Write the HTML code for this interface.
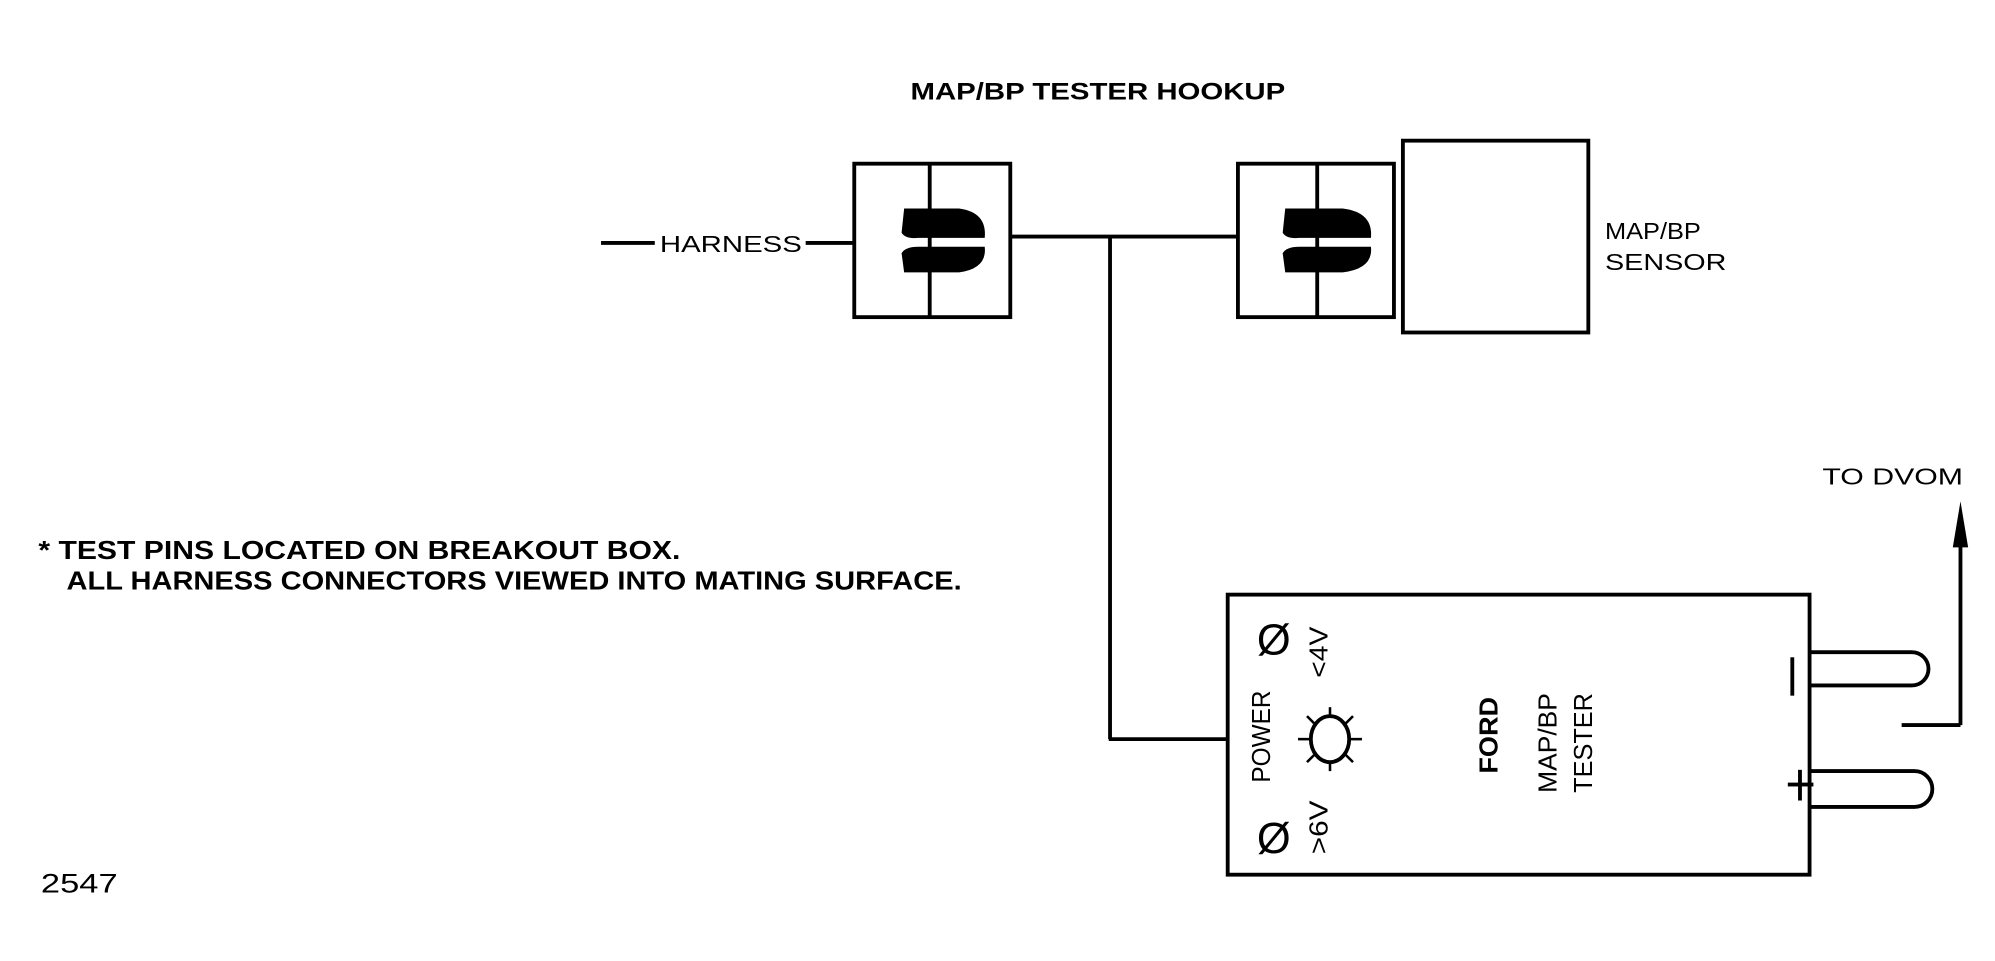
<!DOCTYPE html>
<html><head><meta charset="utf-8"><style>
html,body{margin:0;padding:0;background:#fff;}
svg{display:block;}
text{font-family:"Liberation Sans",sans-serif;fill:#000;}
</style></head><body>
<svg width="1995" height="961" viewBox="0 0 1560 751.5" preserveAspectRatio="none" xmlns="http://www.w3.org/2000/svg">
<g stroke="#000" stroke-width="3" fill="none">
<text x="712" y="78" font-size="19" font-weight="bold" stroke="none" textLength="293" lengthAdjust="spacingAndGlyphs">MAP/BP TESTER HOOKUP</text>
<line x1="470" y1="190" x2="512" y2="190"/>
<line x1="630" y1="190" x2="668" y2="190"/>
<rect x="668" y="128" width="122" height="120"/>
<line x1="727" y1="128" x2="727" y2="248"/>
<rect x="968" y="128" width="122" height="120"/>
<line x1="1030" y1="128" x2="1030" y2="248"/>
<rect x="1097" y="110" width="145" height="150"/>
<line x1="790" y1="185" x2="968" y2="185"/>
<line x1="868" y1="185" x2="868" y2="578"/>
<line x1="867" y1="578" x2="960" y2="578"/>
<rect x="960" y="465" width="455" height="219"/>
<path d="M1415 510 H1495 A13 13 0 0 1 1495 536 H1415"/>
<path d="M1415 603 H1497 A14 14 0 0 1 1497 631 H1415"/>
<line x1="1487" y1="567" x2="1533" y2="567"/>
<line x1="1533" y1="567" x2="1533" y2="415"/>
<ellipse cx="1040" cy="578" rx="15" ry="18"/>
<g stroke-width="2">
<line x1="1040" y1="553" x2="1040" y2="560"/><line x1="1040" y1="596" x2="1040" y2="603"/>
<line x1="1015" y1="578" x2="1025" y2="578"/><line x1="1055" y1="578" x2="1065" y2="578"/>
<line x1="1022" y1="560" x2="1028" y2="566"/><line x1="1052" y1="590" x2="1058" y2="596"/>
<line x1="1058" y1="560" x2="1052" y2="566"/><line x1="1022" y1="596" x2="1028" y2="590"/>
</g>
</g>
<g fill="#000">
<path d="M707 163 H750 Q772 166 770 186 H718 Q708 187 705 182 Z"/>
<path d="M707 213 H750 Q772 210 770 193 H718 Q708 193 705 198 Z"/>
<path d="M1005 163 H1050 Q1074 166 1072 186 H1016 Q1006 187 1003 182 Z"/>
<path d="M1005 213 H1050 Q1074 210 1072 193 H1016 Q1006 193 1003 198 Z"/>
<path d="M1527 428 L1533 392 L1539 428 Z"/>
</g>
<text x="516" y="197" font-size="18" textLength="111" lengthAdjust="spacingAndGlyphs">HARNESS</text>
<text x="1255" y="187" font-size="18" textLength="75" lengthAdjust="spacingAndGlyphs">MAP/BP</text>
<text x="1255" y="211" font-size="18" textLength="95" lengthAdjust="spacingAndGlyphs">SENSOR</text>
<text x="1425" y="379" font-size="18" textLength="110" lengthAdjust="spacingAndGlyphs">TO DVOM</text>
<text x="30" y="437" font-size="20" font-weight="bold" textLength="502" lengthAdjust="spacingAndGlyphs">* TEST PINS LOCATED ON BREAKOUT BOX.</text>
<text x="52" y="461" font-size="20" font-weight="bold" textLength="700" lengthAdjust="spacingAndGlyphs">ALL HARNESS CONNECTORS VIEWED INTO MATING SURFACE.</text>
<text x="32" y="698" font-size="21" textLength="60" lengthAdjust="spacingAndGlyphs">2547</text>
<text x="996" y="512" font-size="34" text-anchor="middle">Ø</text>
<text x="996" y="667" font-size="34" text-anchor="middle">Ø</text>
<text transform="translate(993,612) rotate(-90)" font-size="20" textLength="72" lengthAdjust="spacingAndGlyphs">POWER</text>
<text transform="translate(1038,530) rotate(-90)" font-size="20" textLength="40" lengthAdjust="spacingAndGlyphs">&lt;4V</text>
<text transform="translate(1038,668) rotate(-90)" font-size="20" textLength="42" lengthAdjust="spacingAndGlyphs">&gt;6V</text>
<text transform="translate(1171,605) rotate(-90)" font-size="20" font-weight="bold" textLength="60" lengthAdjust="spacingAndGlyphs">FORD</text>
<text transform="translate(1217,620) rotate(-90)" font-size="20" textLength="78" lengthAdjust="spacingAndGlyphs">MAP/BP</text>
<text transform="translate(1245,620) rotate(-90)" font-size="20" textLength="78" lengthAdjust="spacingAndGlyphs">TESTER</text>
<rect x="1400" y="514" width="3" height="30" fill="#000"/>
<rect x="1398" y="612" width="20" height="3" fill="#000"/>
<rect x="1406" y="602" width="3" height="24" fill="#000"/>
</svg>
</body></html>
